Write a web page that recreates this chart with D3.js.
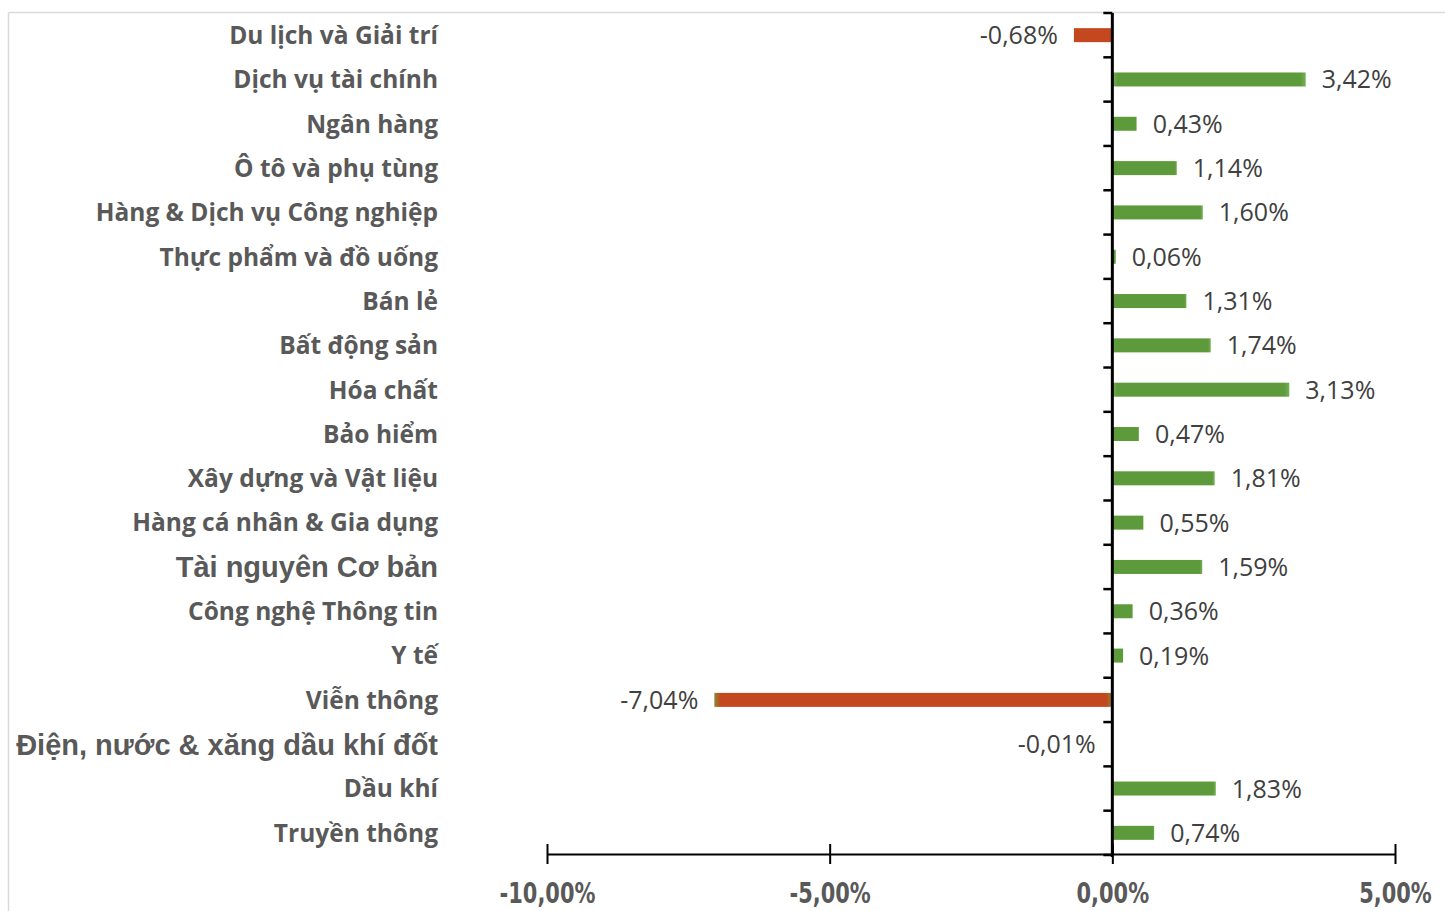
<!DOCTYPE html>
<html><head><meta charset="utf-8">
<script src="https://cdn.jsdelivr.net/npm/d3@7"></script>
<style>
html,body{margin:0;padding:0;background:#fff;}
svg{display:block;}
</style></head>
<body>
<script>
const categories = ["Du lịch và Giải trí","Dịch vụ tài chính","Ngân hàng","Ô tô và phụ tùng","Hàng & Dịch vụ Công nghiệp","Thực phẩm và đồ uống","Bán lẻ","Bất động sản","Hóa chất","Bảo hiểm","Xây dựng và Vật liệu","Hàng cá nhân & Gia dụng","Tài nguyên Cơ bản","Công nghệ Thông tin","Y tế","Viễn thông","Điện, nước & xăng dầu khí đốt","Dầu khí","Truyền thông"];
const values = [-0.68,3.42,0.43,1.14,1.60,0.06,1.31,1.74,3.13,0.47,1.81,0.55,1.59,0.36,0.19,-7.04,-0.01,1.83,0.74];
const arialLabels = ["Tài nguyên Cơ bản","Điện, nước & xăng dầu khí đốt"];
const xTicks = [-10,-5,0,5];

const W=1445,H=911;
const svg=d3.select("body").append("svg").attr("width",W).attr("height",H);
const defs=svg.append("defs");
function grad(id,edge,mid,o){
  const g=defs.append("linearGradient").attr("id",id).attr("x1","0").attr("x2","1").attr("y1","0").attr("y2","0");
  g.append("stop").attr("offset","0%").attr("stop-color",edge);
  g.append("stop").attr("offset",o+"%").attr("stop-color",mid);
  g.append("stop").attr("offset",(100-o)+"%").attr("stop-color",mid);
  g.append("stop").attr("offset","100%").attr("stop-color",edge);
}
grad("gpos","#76ad55","#5c9a3b",3);
grad("gneg","#8a8a35","#c4481f",1.5);

// border
svg.append("line").attr("x1",8.5).attr("x2",W).attr("y1",12.5).attr("y2",12.5).attr("stroke","#d9d9d9").attr("stroke-width",1.5);
svg.append("line").attr("x1",8.5).attr("x2",8.5).attr("y1",12.5).attr("y2",H).attr("stroke","#d9d9d9").attr("stroke-width",1.5);

const x=d3.scaleLinear().domain([-10,5]).range([547,1395]);
const y=d3.scaleBand().domain(categories).range([13,855]);
const barH=14;

// bars
svg.append("g").selectAll("rect").data(values).join("rect")
  .attr("x",d=>x(Math.min(0,d)))
  .attr("width",d=>Math.abs(x(d)-x(0)))
  .attr("y",(d,i)=>y(categories[i])+y.bandwidth()/2-barH/2)
  .attr("height",barH)
  .attr("fill",d=>d<0?"url(#gneg)":"url(#gpos)");

// value labels
const fmt=v=>d3.format(".2f")(v).replace(".",",").replace("−","-")+"%";
svg.append("g").selectAll("text").data(values).join("text")
  .attr("x",d=>d<0?x(d)-16:x(d)+16)
  .attr("y",(d,i)=>y(categories[i])+y.bandwidth()/2)
  .attr("dy","0.36em")
  .attr("text-anchor",d=>d<0?"end":"start")
  .attr("font-family","'Open Sans',sans-serif")
  .attr("font-size",25)
  .attr("fill","#404040")
  .text(fmt);

// x axis
const xa=svg.append("g").attr("transform","translate(0,854)")
  .call(d3.axisBottom(x).tickValues(xTicks).tickSize(0).tickFormat(d=>d3.format(".2f")(d).replace(".",",").replace("−","-")+"%"));
xa.select(".domain").attr("stroke","#000").attr("stroke-width",2);
xa.selectAll(".tick line").remove();
xa.selectAll(".tick").append("line").attr("y1",-10).attr("y2",10).attr("stroke","#000").attr("stroke-width",2);
xa.selectAll(".tick text").attr("y",39).attr("dy","0.36em")
  .attr("font-family","'DejaVu Sans Condensed','DejaVu Sans',sans-serif").attr("font-weight","bold")
  .attr("font-size",28).attr("fill","#595959")
  .each(function(){
    const L=this.getComputedTextLength();
    d3.select(this).attr("textLength",L*0.83).attr("lengthAdjust","spacingAndGlyphs");
  });

// y axis at zero
const ya=svg.append("g").attr("transform",`translate(${x(0)},0)`);
ya.append("line").attr("y1",13).attr("y2",857).attr("stroke","#000").attr("stroke-width",3);
const bounds=categories.map(c=>y(c)).concat([855]);
ya.selectAll("line.t").data(bounds).join("line").attr("class","t")
  .attr("x1",-9).attr("x2",0).attr("y1",d=>d).attr("y2",d=>d).attr("stroke","#000").attr("stroke-width",2.5);

// category labels
svg.append("g").selectAll("text").data(categories).join("text")
  .attr("x",438)
  .attr("y",d=>y(d)+y.bandwidth()/2)
  .attr("dy","0.36em")
  .attr("text-anchor","end")
  .attr("font-family",d=>arialLabels.includes(d)?"'Liberation Sans',Arial,sans-serif":"'Open Sans',sans-serif")
  .attr("font-weight","bold")
  .attr("font-size",d=>arialLabels.includes(d)?29:24.5)
  .attr("fill","#595959")
  .text(d=>d);
</script>
</body></html>
